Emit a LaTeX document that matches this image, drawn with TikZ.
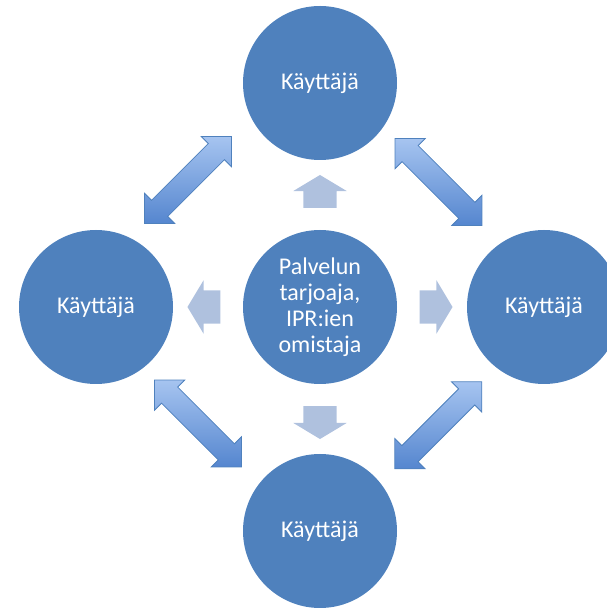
\documentclass[tikz,border=0pt]{standalone}
\usepackage{fontspec}
\setmainfont{Carlito}
\usetikzlibrary{shapes.arrows}
\definecolor{userblue}{HTML}{4F81BD}
\definecolor{paleblue}{HTML}{AFC1DE}
\definecolor{arrowlight}{HTML}{A6C4F0}
\definecolor{arrowdark}{HTML}{5586CF}
\begin{document}
\begin{tikzpicture}[x=1pt,y=1pt,
    user/.style={circle,fill=userblue,minimum size=154pt,inner sep=0pt,
        text=white,align=center,font=\fontsize{24}{26}\selectfont},
    flow/.style={single arrow,fill=paleblue,minimum height=33pt,minimum width=53pt,
        single arrow head extend=10pt,single arrow tip angle=118,
        inner xsep=0pt,inner ysep=16.5pt},
    share/.style={double arrow,draw=userblue,line width=0.8pt,top color=arrowlight,
        bottom color=arrowdark,minimum height=123pt,minimum width=42pt,
        double arrow head extend=10pt,double arrow tip angle=90,
        inner xsep=0pt,inner ysep=11pt}]
                \clip (0,0) rectangle (607,608);

                \node [user] (centre) at (320,301) {Palvelun\\tarjoaja,\\IPR:ien\\omistaja};
                \node [user] (top) at (320,525) {Käyttäjä};
                \node [user] (left) at (96,301) {Käyttäjä};
                \node [user] (right) at (544,301) {Käyttäjä};
                \node [user] (bottom) at (320,77) {Käyttäjä};

                \node [flow,rotate=90] (up) at (320,411.5) {};
                \node [flow,rotate=180] (west) at (209,301) {};
                \node [flow] (east) at (431,301) {};
                \node [flow,rotate=-90] (down) at (320,190.5) {};

                \node [share,rotate=45] (topleft) at (188,428) {};
                \node [share,rotate=-45] (topright) at (438.5,426) {};
                \node [share,rotate=-45] (bottomleft) at (198,184.5) {};
                \node [share,rotate=45] (bottomright) at (438.3,182.7) {};
            \end{tikzpicture}
\end{document}
